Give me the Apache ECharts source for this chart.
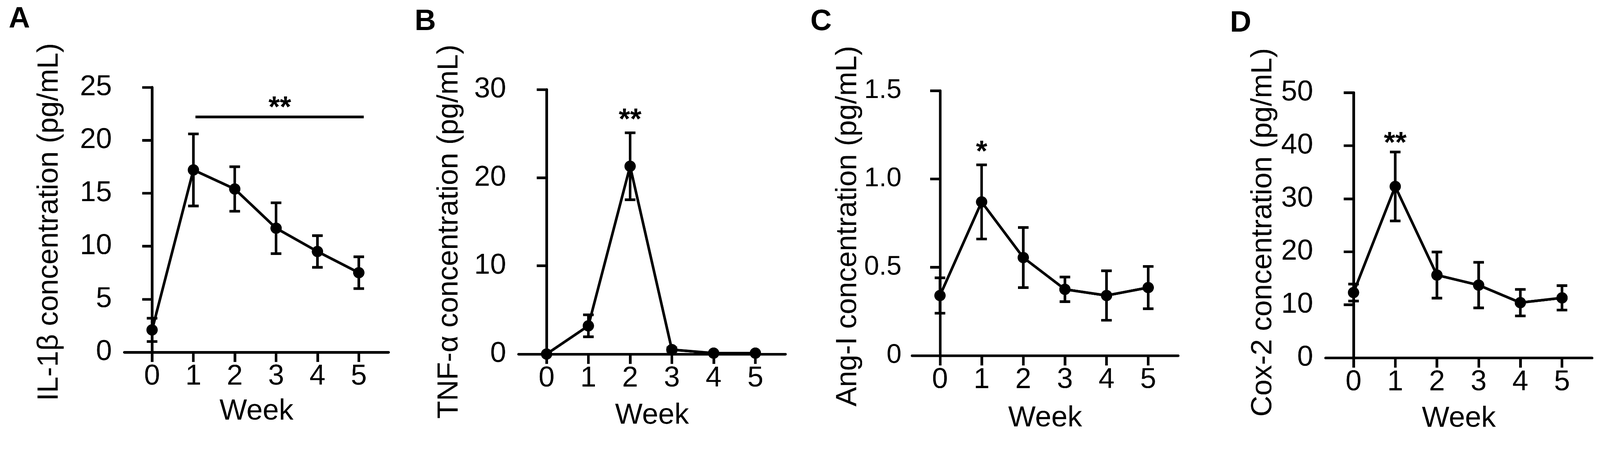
<!DOCTYPE html>
<html>
<head>
<meta charset="utf-8">
<title>Cytokine concentrations by week</title>
<script src="https://cdn.jsdelivr.net/npm/echarts@6/dist/echarts.min.js"></script>
<style>
  html, body { margin: 0; padding: 0; background: #fff; overflow: hidden; }
  #chart { width: 4233px; height: 1155px; transform-origin: 0 0; }
</style>
</head>
<body>
<div id="chart"></div>
<script>
var weeks = [0, 1, 2, 3, 4, 5];

// mean and error per week
var il1bMean = [2.1, 17.2, 15.4, 11.7, 9.5, 7.5];
var il1bErr  = [1.1, 3.4, 2.1, 2.4, 1.5, 1.5];
var tnfMean  = [0, 3.2, 21.3, 0.5, 0.1, 0.1];
var tnfErr   = [0.05, 1.25, 3.8, 0.2, 0.05, 0.05];
var angMean  = [0.34, 0.87, 0.555, 0.375, 0.34, 0.385];
var angErr   = [0.1, 0.21, 0.17, 0.07, 0.14, 0.12];
var coxMean  = [12.3, 32.3, 15.6, 13.7, 10.4, 11.3];
var coxErr   = [1.6, 6.5, 4.35, 4.3, 2.5, 2.3];

var yTitles = ['IL-1β concentration (pg/mL)', 'TNF-α concentration (pg/mL)',
               'Ang-I concentration (pg/mL)', 'Cox-2 concentration (pg/mL)'];
var yMax  = [25, 30, 1.5, 50];
var yStep = [5, 10, 0.5, 10];
var letters = ['A', 'B', 'C', 'D'];

// significance marks: [week, value, text]
var sigA = [[3.09, 23.6, '**']];
var sigB = [[2, 27.2, '**']];
var sigC = [[1, 1.185, '*']];
var sigD = [[1, 41.5, '**']];
// bracket across weeks 1-5 in panel A
var bracketA = [[1.05, 22.2], [5.12, 22.2]];

var means = [il1bMean, tnfMean, angMean, coxMean];
var errs  = [il1bErr, tnfErr, angErr, coxErr];
var sigs  = [sigA, sigB, sigC, sigD];

// pixel layout of each panel (shift = how far the y title sits below the axis middle)
var panels = [
  {left: 329,  top: 231, width: 699, height: 701, nameGap: 159, shift: 6,  weekGap: 119, lx: 23,   ly: 12, labelSize: 76, margin: 33},
  {left: 1372, top: 237, width: 706, height: 700, nameGap: 144, shift: 26, weekGap: 125, lx: 1097, ly: 19, labelSize: 76, margin: 33},
  {left: 2413, top: 240, width: 704, height: 701, nameGap: 128, shift: 8,  weekGap: 128, lx: 2144, ly: 19, labelSize: 71, margin: 28},
  {left: 3507, top: 245, width: 705, height: 702, nameGap: 126, shift: 19, weekGap: 123, lx: 3254, ly: 23, labelSize: 76, margin: 33}
];

var FONT = "'Liberation Sans', Arial, sans-serif";
var INK = '#000';
var LW = 7;

function errorBar(params, api) {
  var top = api.coord([api.value(0), api.value(2)]);
  var bot = api.coord([api.value(0), api.value(1)]);
  var half = 14;
  var st = {stroke: INK, lineWidth: LW};
  return {
    type: 'group',
    children: [
      {type: 'line', shape: {x1: top[0], y1: top[1], x2: bot[0], y2: bot[1]}, style: st},
      {type: 'line', shape: {x1: top[0] - half, y1: top[1], x2: top[0] + half, y2: top[1]}, style: st},
      {type: 'line', shape: {x1: bot[0] - half, y1: bot[1], x2: bot[0] + half, y2: bot[1]}, style: st}
    ]
  };
}

function sigText(params, api) {
  var p = api.coord([api.value(0), api.value(1)]);
  return {
    type: 'text',
    x: p[0],
    y: p[1] + 17,
    style: {
      text: api.value(2),
      fill: INK,
      font: 'bold 77px ' + FONT,
      textAlign: 'center',
      textVerticalAlign: 'middle'
    }
  };
}

var grid = [], xAxis = [], yAxis = [], series = [], graphic = [];

panels.forEach(function (p, i) {
  grid.push({left: p.left, top: p.top, width: p.width, height: p.height, containLabel: false});

  xAxis.push({
    gridIndex: i, type: 'value', min: -0.67, max: 5.72,
    name: 'Week', nameLocation: 'middle', nameGap: p.weekGap,
    nameTextStyle: {fontSize: 77, fontFamily: FONT, color: INK},
    axisLine: {show: true, onZero: false, lineStyle: {color: INK, width: LW}},
    axisTick: {show: true, length: 26, customValues: weeks, lineStyle: {color: INK, width: LW}},
    axisLabel: {customValues: weeks, margin: 27, fontSize: 76, fontFamily: FONT, color: INK},
    splitLine: {show: false}
  });

  yAxis.push({
    gridIndex: i, type: 'value', min: 0, max: yMax[i], interval: yStep[i],
    name: yTitles[i], nameLocation: 'middle', nameGap: p.nameGap,
    nameTextStyle: {fontSize: 77, fontFamily: FONT, color: INK, padding: [0, 2 * p.shift, 0, 0]},
    axisLine: {show: true, lineStyle: {color: INK, width: LW}},
    axisTick: {show: true, length: 26, lineStyle: {color: INK, width: LW}},
    axisLabel: {
      margin: p.margin, fontSize: p.labelSize, fontFamily: FONT, color: INK,
      formatter: function (v) { return (yStep[i] < 1 && v !== 0) ? v.toFixed(1) : String(v); }
    },
    splitLine: {show: false}
  });

  var barData = weeks.map(function (w, k) {
    return [w, means[i][k] - errs[i][k], means[i][k] + errs[i][k]];
  });
  series.push({
    type: 'custom', xAxisIndex: i, yAxisIndex: i, clip: false,
    renderItem: errorBar, encode: {x: 0, y: [1, 2]}, data: barData, z: 2
  });

  series.push({
    type: 'line', xAxisIndex: i, yAxisIndex: i, clip: false,
    data: weeks.map(function (w, k) { return [w, means[i][k]]; }),
    symbol: 'circle', symbolSize: 30,
    itemStyle: {color: INK},
    lineStyle: {color: INK, width: LW},
    z: 3
  });

  series.push({
    type: 'custom', xAxisIndex: i, yAxisIndex: i, clip: false,
    renderItem: sigText, encode: {x: 0, y: 1}, data: sigs[i], z: 4
  });

  graphic.push({
    type: 'text', left: p.lx, top: p.ly,
    style: {text: letters[i], font: 'bold 78px ' + FONT, fill: INK}
  });
});

series.push({
  type: 'line', xAxisIndex: 0, yAxisIndex: 0, clip: false,
  data: bracketA, symbol: 'none',
  lineStyle: {color: INK, width: LW}, z: 3
});

// fit the 4233x1155 drawing into whatever viewport we actually get
var box = document.getElementById('chart');
var fit = Math.min(window.innerWidth / 4233, window.innerHeight / 1155);
if (fit > 0 && Math.abs(fit - 1) > 0.002) {
  box.style.transform = 'scale(' + fit + ')';
}

var myChart = echarts.init(box, null, {renderer: 'canvas', devicePixelRatio: 2});
myChart.setOption({
  backgroundColor: '#fff',
  animation: false,
  grid: grid,
  xAxis: xAxis,
  yAxis: yAxis,
  series: series,
  graphic: graphic
});
</script>
</body>
</html>
